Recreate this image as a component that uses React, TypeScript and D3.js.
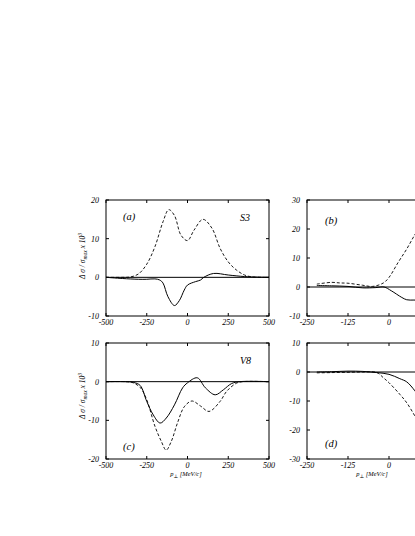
import React from "react";
import * as d3 from "d3";

// panel (a) S3, p in MeV/c
const aDashX = [-500, -400, -350, -300, -250, -200, -150, -115, -80, -40, 0, 40, 95, 150, 200, 250, 300, 350, 400, 500];
const aDashY = [0, 0, 0.1, 0.9, 3.4, 7.9, 14.4, 17.5, 16, 10.9, 9.5, 12.2, 15, 12.7, 7.5, 4, 1.9, 0.6, 0.1, 0];
const aSolX = [-500, -400, -300, -250, -200, -170, -150, -120, -80, -50, -20, 0, 50, 80, 100, 160, 250, 350, 500];
const aSolY = [0, -0.3, -0.5, -0.5, -0.4, -0.7, -1.5, -5, -7.3, -6, -3.3, -2, -1.1, -0.7, 0, 1, 0.6, 0.2, 0];

// panel (b)
const bDashX = [-220, -175, -150, -125, -80, -50, -17, 0, 28, 54, 76, 100];
const bDashY = [1, 1.6, 1.4, 1.3, 0.6, 0.2, 1.4, 3.3, 8.5, 13.1, 17.5, 22];
const bSolX = [-220, -175, -125, -80, -40, -15, 7, 39, 54, 76, 100];
const bSolY = [0.5, 0.4, 0.2, -0.3, -0.2, 0, -1.3, -3.6, -4.4, -4.5, -4.5];

// panel (c) V8
const cDashX = [-500, -380, -340, -290, -250, -200, -160, -131, -100, -60, -20, 27, 80, 132, 200, 240, 300, 340, 500];
const cDashY = [0, 0, -0.2, -1.5, -4.7, -11.5, -15.5, -17.7, -15.5, -10.5, -6.5, -5, -6.3, -7.7, -5.1, -2.5, -0.4, 0, 0];
const cSolX = [-500, -380, -330, -290, -250, -210, -168, -130, -80, -30, 0, 60, 110, 170, 220, 270, 320, 500];
const cSolY = [0, 0, -0.2, -1, -5.1, -8.6, -10.7, -9.4, -6, -1.6, -0.3, 1, -1.6, -3.4, -2.1, -0.5, 0, 0];

// panel (d)
const dDashX = [-220, -175, -125, -80, -37, -17, 0, 33, 54, 79, 100];
const dDashY = [-0.3, -0.2, -0.1, 0, -0.2, -2, -3.7, -7.7, -10.6, -15.2, -19.5];
const dSolX = [-220, -175, -125, -80, -37, 0, 33, 54, 79, 100];
const dSolY = [0, 0.1, 0.3, 0.2, -0.2, -0.8, -2.3, -3.4, -6.5, -10];

const wideTicks = [-500, -250, 0, 250, 500];
const narrowTicks = [-250, -125, 0, 125, 250];
const aYTicks = [-10, 0, 10, 20];
const bYTicks = [-10, 0, 10, 20, 30];
const cYTicks = [-20, -10, 0, 10];
const dYTicks = [-30, -20, -10, 0, 10];

const serif = "'Liberation Serif', 'DejaVu Serif', serif";
const pageW = 415;

function zip(xs: number[], ys: number[]) {
  return xs.map((x, i) => [x, ys[i]] as [number, number]);
}

type PanelProps = {
  x0: number;
  y0: number;
  w: number;
  h: number;
  xDomain: [number, number];
  yDomain: [number, number];
  xTicks: number[];
  yTicks: number[];
  dashed: [number, number][];
  solid: [number, number][];
  tag: string;
  tagPos: [number, number];
  name?: string;
};

function Panel(p: PanelProps) {
  const x = d3.scaleLinear().domain(p.xDomain).range([p.x0, p.x0 + p.w]);
  const y = d3.scaleLinear().domain(p.yDomain).range([p.y0 + p.h, p.y0]);
  const line = d3
    .line<[number, number]>()
    .x((d) => x(d[0]))
    .y((d) => y(d[1]))
    .curve(d3.curveCatmullRom.alpha(0.5));
  const clipId = "clip" + p.tag;
  const tl = 3;
  return (
    <g>
      <defs>
        <clipPath id={clipId}>
          <rect x={p.x0} y={p.y0} width={p.w} height={p.h} />
        </clipPath>
      </defs>
      <rect x={p.x0} y={p.y0} width={p.w} height={p.h} fill="none" stroke="#000" strokeWidth={1} />
      {/* ticks on all four sides, pointing inward */}
      {p.xTicks.map((t) => (
        <g key={"xt" + t}>
          <line x1={x(t)} x2={x(t)} y1={p.y0 + p.h} y2={p.y0 + p.h - tl} stroke="#000" />
          <line x1={x(t)} x2={x(t)} y1={p.y0} y2={p.y0 + tl} stroke="#000" />
          {/* labels past the page edge are not in the picture */}
          {x(t) + 8 < pageW && (
            <text
              x={x(t)}
              y={p.y0 + p.h + 9}
              textAnchor="middle"
              fontSize={8}
              fontStyle="italic"
              fontFamily={serif}
              fill="#000"
            >
              {t}
            </text>
          )}
        </g>
      ))}
      {p.yTicks.map((t) => (
        <g key={"yt" + t}>
          <line x1={p.x0} x2={p.x0 + tl} y1={y(t)} y2={y(t)} stroke="#000" />
          <line x1={p.x0 + p.w} x2={p.x0 + p.w - tl} y1={y(t)} y2={y(t)} stroke="#000" />
          <text
            x={p.x0 - 7}
            y={y(t) + 3}
            textAnchor="end"
            fontSize={8}
            fontStyle="italic"
            fontFamily={serif}
            fill="#000"
          >
            {t}
          </text>
        </g>
      ))}
      <line x1={p.x0} x2={p.x0 + p.w} y1={y(0)} y2={y(0)} stroke="#000" strokeWidth={1} />
      <g clipPath={`url(#${clipId})`}>
        <path d={line(p.dashed) || ""} fill="none" stroke="#000" strokeWidth={0.9} strokeDasharray="3,2" />
        <path d={line(p.solid) || ""} fill="none" stroke="#000" strokeWidth={1} />
      </g>
      <text x={p.tagPos[0]} y={p.tagPos[1]} fontSize={10.5} fontStyle="italic" fontFamily={serif} fill="#000">
        ({p.tag})
      </text>
      {p.name && (
        <text x={p.x0 + p.w - 29} y={p.y0 + 20.5} fontSize={10} fontStyle="italic" fontFamily={serif} fill="#000">
          {p.name}
        </text>
      )}
    </g>
  );
}

function YLabel({ cx, cy }: { cx: number; cy: number }) {
  return (
    <text
      transform={`translate(${cx},${cy}) rotate(-90)`}
      textAnchor="middle"
      fontSize={7.5}
      fontStyle="italic"
      fontFamily={serif}
      fill="#000"
    >
      Δ σ / σ
      <tspan fontSize={5.5} dy={1.5}>max</tspan>
      <tspan dy={-1.5}> x 10</tspan>
      <tspan fontSize={5.5} dy={-3}>3</tspan>
    </text>
  );
}

function XLabel({ cx, cy }: { cx: number; cy: number }) {
  return (
    <text x={cx} y={cy} textAnchor="middle" fontSize={6.5} fontStyle="italic" fontFamily={serif} fill="#000">
      p<tspan fontSize={5} dy={1.5}>⊥</tspan>
      <tspan dy={-1.5}> [MeV/c]</tspan>
    </text>
  );
}

export default function App() {
  const leftX = 106;
  const rightX = 307;
  const w = 163;
  const topY = 200;
  const botY = 343;
  const h = 116;
  return (
    <svg
      width={pageW}
      height={536}
      style={{ position: "absolute", left: 0, top: 0, background: "#fff" }}
    >
      <Panel
        x0={leftX} y0={topY} w={w} h={h}
        xDomain={[-500, 500]} yDomain={[-10, 20]}
        xTicks={wideTicks} yTicks={aYTicks}
        dashed={zip(aDashX, aDashY)} solid={zip(aSolX, aSolY)}
        tag="a" tagPos={[123, 220]} name="S3"
      />
      <Panel
        x0={rightX} y0={topY} w={w + 1} h={h}
        xDomain={[-250, 250]} yDomain={[-10, 30]}
        xTicks={narrowTicks} yTicks={bYTicks}
        dashed={zip(bDashX, bDashY)} solid={zip(bSolX, bSolY)}
        tag="b" tagPos={[325, 223.5]}
      />
      <Panel
        x0={leftX} y0={botY} w={w} h={h}
        xDomain={[-500, 500]} yDomain={[-20, 10]}
        xTicks={wideTicks} yTicks={cYTicks}
        dashed={zip(cDashX, cDashY)} solid={zip(cSolX, cSolY)}
        tag="c" tagPos={[123, 449.5]} name="V8"
      />
      <Panel
        x0={rightX} y0={botY} w={w + 1} h={h}
        xDomain={[-250, 250]} yDomain={[-30, 10]}
        xTicks={narrowTicks} yTicks={dYTicks}
        dashed={zip(dDashX, dDashY)} solid={zip(dSolX, dSolY)}
        tag="d" tagPos={[325, 446.5]}
      />
      <YLabel cx={85} cy={256} />
      <YLabel cx={85} cy={396} />
      <XLabel cx={186} cy={476} />
      <XLabel cx={372} cy={476} />
    </svg>
  );
}
